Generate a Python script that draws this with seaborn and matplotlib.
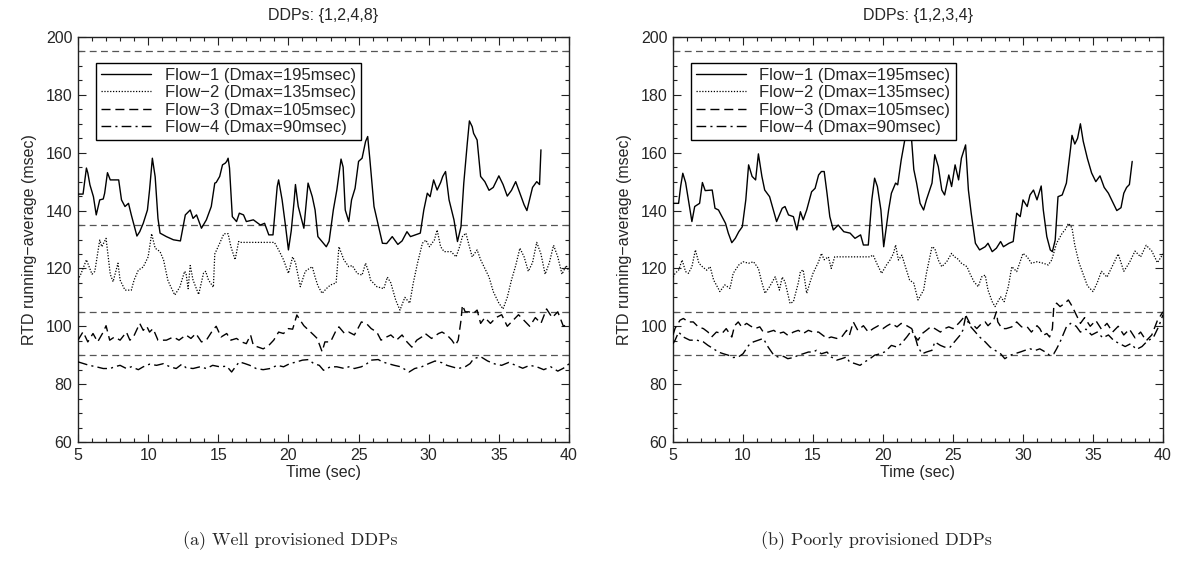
import numpy as np
import pandas as pd
import matplotlib
matplotlib.use("Agg")
import matplotlib.pyplot as plt
import seaborn as sns
from matplotlib.ticker import MultipleLocator

# ---------------- data ----------------
FLOW_LABELS = ["Flow\u22121 (Dmax=195msec)", "Flow\u22122 (Dmax=135msec)",
               "Flow\u22123 (Dmax=105msec)", "Flow\u22124 (Dmax=90msec)"]
DMAX = [195, 135, 105, 90]
TITLES = ["DDPs: {1,2,4,8}", "DDPs: {1,2,3,4}"]
CAPTIONS = ["(a) Well provisioned DDPs", "(b) Poorly provisioned DDPs"]
X_TICKS = [5, 10, 15, 20, 25, 30, 35, 40]
Y_TICKS = [60, 80, 100, 120, 140, 160, 180, 200]

# Left panel (a)
A_F1_T = [5.0, 5.36, 5.6, 5.7, 5.85, 6.1, 6.3, 6.55, 6.8, 6.9, 7.1, 7.3, 7.9, 8.1, 8.35, 8.6, 8.8, 9.2, 9.4, 9.65,
          9.95, 10.1, 10.3, 10.5, 10.7, 10.85, 11.3, 11.8, 12.3, 12.65, 13.0, 13.2, 13.45, 13.8, 14.15, 14.5, 14.75,
          14.85, 15.1, 15.3, 15.5, 15.6, 15.7, 15.8, 16.0, 16.3, 16.5, 16.8, 17.0, 17.5, 18.0, 18.3, 18.6, 18.9, 19.2,
          19.3, 19.55, 19.8, 20.0, 20.2, 20.4, 20.5, 20.7, 21.1, 21.4, 21.7, 21.9, 22.1, 22.7, 22.9, 23.2, 23.45,
          23.75, 23.9, 24.05, 24.3, 24.5, 24.75, 25.0, 25.25, 25.5, 25.65, 25.8, 26.1, 26.4, 26.7, 27.0, 27.4, 27.8,
          28.1, 28.45, 28.7, 29.05, 29.4, 29.65, 29.9, 30.1, 30.35, 30.6, 30.85, 31.0, 31.2, 31.45, 31.8, 32.05,
          32.3, 32.5, 32.75, 32.9, 33.1, 33.2, 33.45, 33.7, 34.0, 34.3, 34.6, 35.0, 35.3, 35.6, 35.9, 36.2, 36.5,
          36.8, 37.0, 37.2, 37.4, 37.7, 37.9, 38.0]
A_F1_Y = [145.7, 145.7, 154.7, 153, 148.9, 144.8, 138.5, 143.7, 144, 146, 153.1, 150.6, 150.6, 143.7, 141.4, 142.5,
          138.5, 131.2, 132.7, 135.6, 140.2, 147.1, 158.1, 151.7, 137.3, 132.2, 131, 129.9, 129.5, 138.5, 140.2,
          137.3, 138.5, 133.9, 136.8, 141.4, 149.5, 149.7, 151.8, 155.8, 156.4, 157, 158.1, 154.7, 137.9, 136.2,
          139.1, 138.5, 136.2, 136.8, 135, 135.6, 131.6, 131.6, 148.3, 150.6, 143.7, 134.4, 126.4, 133, 143, 149,
          141.4, 133.9, 149.5, 144.8, 140.2, 131, 127.5, 129.4, 140.2, 147.1, 157.8, 155, 140.2, 136.2, 143.7,
          147.7, 157, 158.1, 163.9, 165.6, 158, 141.4, 135, 128.7, 128.6, 131, 128.3, 129.5, 132.7, 131, 131.6,
          132.2, 140.2, 146, 144.8, 150.6, 147.1, 149.7, 151.8, 153.5, 143.7, 136.8, 129.3, 134.4, 149.5, 163.3,
          171, 169, 166.7, 164.4, 151.8, 150, 147, 148, 152, 149, 145, 147, 150, 146, 142, 140, 144, 148, 150, 149,
          161]
A_F2_T = [5.0, 5.2, 5.6, 6.0, 6.2, 6.55, 6.7, 7.0, 7.3, 7.5, 7.85, 8.0, 8.35, 8.8, 9.0, 9.3, 9.65, 10.0, 10.25,
          10.5, 10.85, 11.1, 11.4, 11.55, 11.9, 12.25, 12.6, 12.7, 12.85, 13.0, 13.2, 13.6, 13.95, 14.1, 14.3, 14.65,
          14.75, 15.1, 15.4, 15.7, 15.9, 16.2, 16.45, 16.5, 19.0, 19.3, 19.65, 20.0, 20.3, 20.5, 20.85, 21.0, 21.2,
          21.5, 21.7, 21.9, 22.1, 22.4, 22.7, 23.0, 23.4, 23.6, 23.95, 24.3, 24.55, 24.9, 25.25, 25.5, 25.75, 25.85,
          26.3, 26.8, 27.05, 27.3, 27.65, 27.95, 28.3, 28.65, 28.9, 29.2, 29.55, 29.8, 30.05, 30.4, 30.6, 30.85,
          31.1, 31.6, 31.95, 32.2, 32.4, 32.65, 32.9, 33.1, 33.45, 33.7, 34.0, 34.3, 34.6, 35.0, 35.3, 35.6, 35.9,
          36.2, 36.5, 36.8, 37.1, 37.4, 37.7, 38.0, 38.3, 38.6, 38.9, 39.2, 39.5, 39.8, 40.0]
A_F2_Y = [116, 118, 123, 118, 119, 129.8, 127.5, 130.4, 118, 115.4, 121.8, 116, 112.5, 112.5, 116, 119.4, 120.5,
          124, 132, 127, 125.8, 122.9, 116, 114.3, 110.8, 113.5, 119, 118.3, 113, 121, 116, 111, 118.4, 119, 116,
          113.5, 125, 128.7, 132, 132, 127.5, 123, 129.3, 129, 129, 126.4, 123, 118.3, 124, 122, 113.7, 116, 119,
          120, 120.6, 117, 114, 111.4, 113, 114.3, 115, 127.5, 123, 120.6, 121, 118.3, 117.7, 121.8, 118.3, 116,
          113.7, 113, 117, 115, 109, 105.6, 110, 108, 115, 121.8, 128.7, 129.8, 127.5, 129.8, 133.3, 127.5, 125.8,
          125.8, 124, 127.5, 131, 132.2, 127.5, 124, 126.4, 123, 120, 117, 112, 108, 106, 110, 116, 121, 127, 124,
          119, 122, 129, 125, 118, 122, 128, 124, 118, 121, 119]
A_F3_T = [5.0, 5.36, 5.7, 6.07, 6.4, 6.8, 7.0, 7.26, 7.6, 8.0, 8.45, 8.7, 8.95, 9.2, 9.4, 9.65, 9.9, 10.1, 10.35,
          10.7, 11.3, 11.8, 12.2, 12.7, 13.05, 13.4, 13.8, 14.15, 14.6, 14.85, 15.2, 15.6, 15.9, 16.3, 16.65, 17.0,
          17.3, 17.5, 17.85, 18.2, 18.6, 18.95, 19.3, 19.65, 20.0, 20.3, 20.6, 20.85, 21.1, 21.45, 21.8, 22.05, 22.4,
          22.6, 23.0, 23.4, 23.6, 24.0, 24.3, 24.7, 24.95, 25.2, 25.55, 25.9, 26.3, 26.6, 27.0, 27.3, 27.7, 28.1,
          28.45, 28.8, 29.15, 29.5, 29.75, 30.2, 30.7, 30.95, 31.3, 31.65, 31.9, 32.1, 32.3, 32.4, 32.6, 32.85, 33.2,
          33.45, 33.7, 34.0, 34.4, 34.8, 35.2, 35.6, 36.0, 36.4, 36.8, 37.2, 37.6, 38.0, 38.4, 38.8, 39.2, 39.6, 40.0]
A_F3_Y = [95.2, 98.1, 94.6, 97.5, 94.6, 98, 100.2, 95.2, 96.3, 95.2, 98, 95.2, 96.3, 98.9, 101, 98.6, 100, 98, 99.2,
          95.2, 95.2, 96.3, 95.2, 97, 95.8, 97.5, 94.6, 95.2, 98.6, 100, 96.3, 97.5, 95.2, 95.8, 94.6, 94, 97, 93.4,
          92.8, 92.2, 93.4, 95.2, 98, 97.5, 99.2, 99, 103.9, 102, 100.2, 98.6, 97, 95.8, 91.2, 94.6, 94.6, 98.6,
          99.8, 97.5, 98, 97, 99.2, 101.5, 101, 99.2, 98, 95.2, 96.3, 97, 95.2, 97, 94.6, 92.8, 95.2, 96.3, 97.5,
          95.8, 97.5, 98, 97, 95.2, 93.4, 95.2, 102, 107.3, 105, 105, 104.5, 105.6, 101, 103, 101, 103, 104, 100,
          102, 104, 102, 100, 103, 101, 106, 103, 105, 100, 101]
A_F4_T = [5.0, 5.4, 5.8, 6.3, 6.8, 7.3, 7.6, 8.0, 8.45, 8.8, 9.3, 9.65, 10.1, 10.6, 11.1, 11.55, 12.0, 12.4, 12.7,
          13.2, 13.7, 14.15, 14.6, 15.1, 15.6, 15.95, 16.3, 16.5, 16.9, 17.25, 17.7, 18.2, 18.7, 19.2, 19.65, 20.1,
          20.6, 21.0, 21.45, 21.8, 22.2, 22.5, 23.0, 23.45, 24.0, 24.3, 24.7, 25.2, 25.55, 25.9, 26.4, 26.7, 27.1,
          27.55, 28.0, 28.6, 29.0, 29.5, 30.0, 30.45, 30.95, 31.3, 31.65, 32.1, 32.6, 32.95, 33.2, 33.7, 34.2, 34.7,
          35.2, 35.7, 36.2, 36.7, 37.2, 37.7, 38.2, 38.7, 39.2, 39.6, 40.0]
A_F4_Y = [87.7, 87.1, 86.5, 86, 85.4, 85.4, 86, 86.5, 85.4, 86, 85, 86, 86.9, 86.5, 87.1, 86, 85.4, 86.9, 85.7, 85.4,
          86, 85.4, 86.5, 86, 86.2, 84.2, 86.5, 87.7, 87.1, 86.5, 85.4, 85, 85.4, 86.5, 86, 87.1, 87.7, 88.3, 88.5,
          87.1, 86.5, 84.8, 86, 86, 85.4, 86, 85.4, 86, 86.9, 88.3, 88.5, 87.7, 87.1, 86.5, 86, 84.2, 85.4, 86, 87.1,
          88, 87.4, 86.5, 86, 85.4, 86, 87.1, 88.8, 89.5, 88, 87, 86.5, 87.5, 86.5, 85.5, 86.5, 86, 85, 86, 84.5,
          85.5, 87]

# Right panel (b)
B_F1_T = [5.0, 5.4, 5.55, 5.7, 5.9, 6.1, 6.35, 6.55, 6.9, 7.1, 7.3, 7.8, 8.0, 8.25, 8.5, 8.75, 8.95, 9.2, 9.45,
          9.7, 9.95, 10.2, 10.4, 10.65, 10.9, 11.1, 11.35, 11.55, 11.9, 12.4, 12.8, 13.0, 13.25, 13.6, 13.85, 14.1,
          14.3, 14.55, 14.9, 15.15, 15.4, 15.6, 15.8, 16.0, 16.2, 16.45, 16.8, 17.2, 17.65, 18.0, 18.4, 18.6, 18.95,
          19.2, 19.4, 19.6, 19.85, 20.05, 20.4, 20.6, 20.9, 21.05, 21.3, 21.6, 21.8, 22.0, 22.2, 22.4, 22.65, 22.9,
          23.1, 23.5, 23.7, 23.95, 24.2, 24.4, 24.7, 24.9, 25.15, 25.4, 25.6, 25.9, 26.1, 26.3, 26.6, 26.9, 27.3,
          27.5, 27.8, 28.1, 28.4, 28.6, 29.0, 29.3, 29.55, 29.8, 30.0, 30.3, 30.5, 30.75, 31.0, 31.3, 31.45, 31.7,
          31.95, 32.1, 32.3, 32.5, 32.8, 33.1, 33.4, 33.5, 33.7, 33.9, 34.1, 34.3, 34.6, 34.9, 35.2, 35.5, 35.8,
          36.1, 36.4, 36.7, 37.0, 37.2, 37.4, 37.6, 37.8]
B_F1_Y = [142.5, 142.5, 148.5, 152.9, 149.7, 143.7, 136.2, 141.4, 142.5, 149.7, 146.9, 147.1, 140.8, 140.2, 137.9,
          135.6, 132.2, 128.9, 130.4, 132.7, 134.4, 143.7, 155.8, 151.8, 150.6, 159.6, 151.8, 147.1, 144.8, 136.2,
          140.8, 141.4, 138.5, 137.9, 133.3, 139.6, 136.8, 140.2, 146.5, 147.7, 152.3, 153.5, 153.5, 146, 137.9,
          133.3, 135, 132.7, 132.2, 130.4, 131.6, 128.1, 128.1, 143.7, 151.2, 148.3, 140.2, 127.5, 140.2, 146,
          149.5, 148.9, 157.5, 165.6, 166.2, 167.3, 154.2, 149.5, 142.5, 140.2, 143.7, 149.5, 159.3, 155.2, 147.1,
          145.4, 152.3, 148.3, 155.8, 150.6, 158.1, 162.7, 147.1, 139.1, 128.7, 126.4, 127.5, 128.7, 125.8, 127,
          129.3, 127.5, 128.7, 129.3, 139.1, 137.9, 143.7, 141.4, 145.4, 147.1, 143.7, 148.5, 140.2, 131, 126.4,
          125.8, 129.8, 144.8, 145.4, 149.5, 161.6, 166, 163, 165, 170, 164, 158, 153, 150, 152, 148, 146, 143, 140,
          141, 146, 148, 149, 157]
B_F2_T = [5.0, 5.15, 5.4, 5.65, 5.9, 6.1, 6.35, 6.6, 6.85, 7.1, 7.4, 7.65, 7.9, 8.35, 8.7, 9.07, 9.3, 9.7, 10.0,
          10.4, 10.75, 11.1, 11.3, 11.57, 11.9, 12.3, 12.6, 12.8, 13.0, 13.36, 13.6, 13.95, 14.1, 14.3, 14.55, 14.8,
          15.0, 15.4, 15.6, 15.8, 16.1, 16.3, 16.55, 19.05, 19.3, 19.55, 19.9, 20.25, 20.5, 20.75, 20.9, 21.1, 21.35,
          21.6, 21.9, 22.2, 22.5, 22.9, 23.1, 23.5, 23.7, 23.95, 24.2, 24.55, 24.9, 25.1, 25.3, 25.6, 26.0, 26.2,
          26.5, 26.8, 27.05, 27.3, 27.5, 27.8, 28.0, 28.4, 28.65, 28.95, 29.2, 29.55, 30.0, 30.3, 30.6, 31.0, 31.45,
          31.8, 32.05, 32.4, 32.8, 33.0, 33.25, 33.5, 33.7, 34.0, 34.3, 34.6, 35.0, 35.3, 35.6, 36.0, 36.4, 36.8,
          37.2, 37.6, 38.0, 38.4, 38.8, 39.2, 39.6, 40.0]
B_F2_Y = [117, 118.3, 119.4, 122.9, 118.9, 118.3, 120.6, 126.4, 121.8, 120.6, 119.4, 120.6, 116, 112, 114.3, 113.1,
          118.3, 121.2, 122.3, 121.8, 122.3, 120, 116, 111.4, 113.7, 117.1, 112.5, 117, 115.4, 107.9, 108.5, 115,
          118.9, 119.5, 111.4, 115.4, 118.3, 122.3, 125.2, 123, 124, 120, 124, 124, 124.6, 121.8, 118.3, 121.2,
          122.9, 125.2, 128.1, 122.9, 124.6, 120.6, 116, 114.9, 109.1, 112.5, 118.3, 127.5, 126.9, 122.9, 120.6,
          122.3, 125.2, 124, 123.5, 121.8, 120.6, 118.3, 115.4, 113.7, 117.1, 117.7, 112.5, 108.5, 106.8, 110.2,
          108.5, 113.7, 120.6, 118.9, 125.2, 124, 121.8, 122.3, 121.8, 121.2, 122.9, 128.7, 132.2, 133.3, 135.6,
          134, 128, 122, 118, 114, 112, 115, 119, 117, 121, 125, 119, 122, 126, 124, 128, 126, 122, 125]
B_F3_T = [5.0, 5.15, 5.5, 5.74, 6.1, 6.45, 6.8, 7.17, 7.5, 7.76, 8.1, 8.5, 8.8, 9.2, 9.4, 9.66, 9.9, 10.26, 10.5,
          10.86, 11.2, 11.45, 11.8, 12.2, 12.5, 12.9, 13.2, 13.6, 13.95, 14.3, 14.67, 15.0, 15.4, 15.7, 16.0, 16.3,
          16.7, 17.05, 17.4, 17.6, 17.88, 18.2, 18.6, 18.95, 19.3, 19.67, 20.0, 20.3, 20.6, 21.0, 21.3, 21.7, 22.05,
          22.3, 22.5, 22.8, 23.1, 23.4, 23.7, 24.1, 24.4, 24.7, 25.0, 25.4, 25.6, 25.9, 26.2, 26.5, 26.7, 27.05,
          27.3, 27.5, 27.9, 28.1, 28.2, 28.5, 28.8, 29.2, 29.55, 29.9, 30.3, 30.6, 31.0, 31.2, 31.45, 31.7, 31.9,
          32.1, 32.2, 32.4, 32.65, 33.0, 33.24, 33.5, 33.8, 34.1, 34.4, 34.8, 35.2, 35.6, 36.0, 36.4, 36.8, 37.2,
          37.6, 38.0, 38.4, 38.8, 39.2, 39.6, 40.0]
B_F3_Y = [97, 99.3, 102.1, 102.7, 101.5, 101.5, 99.8, 99.2, 98, 96.3, 98, 97.5, 99.2, 96.3, 100.2, 101.5, 99.8, 101,
          100.2, 99.2, 99.8, 98, 98, 98.6, 97.5, 98, 96.9, 98, 98.6, 97.5, 98.6, 98, 98, 96.9, 95.8, 96.3, 95.8,
          96.3, 98.6, 96.9, 101.5, 98.6, 100.2, 98, 99.2, 100.2, 99.2, 100.2, 101, 99.8, 101, 100.2, 99.2, 96.3,
          95.2, 97.5, 98.6, 99.8, 99.2, 98, 99.2, 99.8, 99.2, 101, 102.1, 103.9, 101, 100.2, 99.2, 101, 101.5,
          100.2, 102.1, 105, 101.5, 99.2, 99.2, 99.8, 101.5, 99.8, 99.8, 98, 100.2, 99.2, 96.9, 97.5, 96.3, 99.2,
          106.8, 108, 106.8, 108, 109.1, 107, 104, 101, 103, 100, 102, 99, 101, 98, 100, 97, 99, 96, 98, 95, 97,
          102, 105]
B_F4_T = [5.0, 5.15, 5.4, 5.74, 6.2, 6.7, 7.17, 7.5, 7.9, 8.24, 8.6, 8.95, 9.3, 9.67, 10.0, 10.4, 10.74, 11.1,
          11.45, 11.8, 12.2, 12.5, 12.9, 13.2, 13.6, 13.95, 14.3, 14.67, 15.0, 15.25, 15.6, 16.0, 16.3, 16.7, 17.05,
          17.4, 17.6, 18.0, 18.36, 18.7, 19.07, 19.4, 19.8, 20.1, 20.4, 20.6, 21.0, 21.3, 21.7, 22.05, 22.3, 22.5,
          22.8, 23.1, 23.5, 23.7, 24.1, 24.4, 24.8, 25.1, 25.5, 25.7, 25.9, 26.2, 26.6, 26.9, 27.3, 27.65, 28.0,
          28.4, 28.7, 29.1, 29.4, 29.8, 30.15, 30.5, 30.9, 31.2, 31.6, 31.9, 32.2, 32.4, 32.65, 32.9, 33.1, 33.4,
          33.8, 34.1, 34.5, 34.9, 35.3, 35.7, 36.1, 36.5, 36.9, 37.3, 37.7, 38.1, 38.5, 38.9, 39.3, 39.7, 40.0]
B_F4_Y = [94, 95.2, 98, 96.3, 95.2, 95.2, 94.6, 93.4, 92.2, 91.1, 90.5, 90, 89.2, 89.4, 90.5, 93.4, 94.6, 95.2,
          95.8, 92.8, 90, 89.4, 89.6, 88.8, 89.2, 90, 90.5, 91.1, 91.1, 91.7, 90.5, 91.1, 89.4, 88.3, 88.8, 89.4,
          87.7, 87.1, 86.5, 87.7, 88.8, 90, 90.5, 91.1, 92.4, 93.4, 92.8, 94, 96.3, 98.6, 96.3, 92.8, 90.5, 91.1,
          91.7, 94.6, 93.4, 92.8, 92.8, 94.6, 96.9, 98.6, 103.3, 100.2, 98, 96.3, 94.6, 92.8, 91.7, 90.5, 88.8, 90,
          90.5, 91.1, 91.7, 92.2, 91.7, 92.2, 91.1, 90, 90.5, 92.2, 94.6, 97.5, 99.8, 101, 100, 98, 99, 97, 98, 96,
          97, 95, 94, 93, 94, 92, 93, 95, 96, 100, 104]

PANELS = [
    [(A_F1_T, A_F1_Y), (A_F2_T, A_F2_Y), (A_F3_T, A_F3_Y), (A_F4_T, A_F4_Y)],
    [(B_F1_T, B_F1_Y), (B_F2_T, B_F2_Y), (B_F3_T, B_F3_Y), (B_F4_T, B_F4_Y)],
]

# ---------------- style ----------------
sns.set_theme(style="ticks")
plt.rcParams["font.family"] = ["Liberation Sans", "DejaVu Sans"]
plt.rcParams["axes.unicode_minus"] = True

LINESTYLES = ["-", (0, (1.0, 1.3)), (0, (6.5, 3.5)), (0, (7, 3, 1.5, 3))]
LINEWIDTHS = [1.0, 0.9, 1.0, 1.0]

fig = plt.figure(figsize=(11.77, 5.69), dpi=100)
W, H = 1177.0, 569.0
axes_px = [(78, 37, 491, 405), (673, 37, 490, 405)]
CAPTION_X = [290, 876]

for p, (panel, (l, t, w, h)) in enumerate(zip(PANELS, axes_px)):
    ax = fig.add_axes([l / W, 1 - (t + h) / H, w / W, h / H])
    for d in DMAX:
        ax.axhline(d, color="#555555", lw=0.9, linestyle=(0, (5.5, 3.5)), zorder=1)
    for i, (tt, yy) in enumerate(panel):
        df = pd.DataFrame({"t": tt, "y": yy})
        sns.lineplot(data=df, x="t", y="y", ax=ax, color="black",
                     linestyle=LINESTYLES[i], lw=LINEWIDTHS[i],
                     label=FLOW_LABELS[i], zorder=3)
    ax.set_xlim(5, 40)
    ax.set_ylim(60, 200)
    ax.set_xticks(X_TICKS)
    ax.set_yticks(Y_TICKS)
    ax.xaxis.set_minor_locator(MultipleLocator(1))
    ax.yaxis.set_minor_locator(MultipleLocator(5))
    ax.tick_params(which="both", direction="in", top=True, right=True,
                   labelsize=11.5, color="#222222", width=0.8)
    ax.tick_params(which="major", length=6, pad=4)
    ax.tick_params(which="minor", length=3)
    for s in ax.spines.values():
        s.set_visible(True)
        s.set_linewidth(1.0)
        s.set_color("#222222")
    ax.set_xlabel("Time (sec)", fontsize=11.5, labelpad=2)
    ax.set_ylabel("RTD running\u2212average (msec)", fontsize=11.5, labelpad=6)
    ax.set_title(TITLES[p], fontsize=11.5, pad=12)
    leg = ax.legend(loc="upper left", bbox_to_anchor=(0.037, 0.937), fontsize=12,
                    frameon=True, fancybox=False, framealpha=1, edgecolor="black",
                    handlelength=3.0, handletextpad=0.8, borderpad=0.3,
                    labelspacing=0.15, borderaxespad=0.0)
    leg.get_frame().set_linewidth(1.0)
    fig.text(CAPTION_X[p] / W, 1 - 541 / H, CAPTIONS[p], ha="center", va="center",
             fontsize=13, family=["cmr10", "DejaVu Serif"])

fig.savefig("out.png", dpi=100)
